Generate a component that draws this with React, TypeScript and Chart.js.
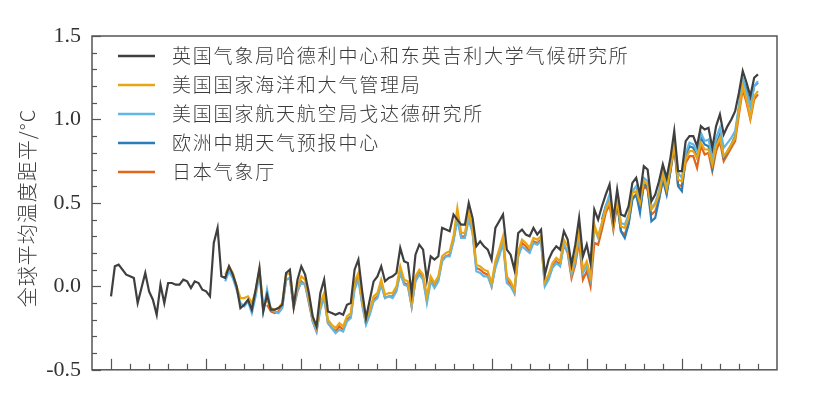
import React, { useEffect, useRef } from 'react';
import { Chart, registerables } from 'chart.js';

Chart.register(...registerables);

const seriesNames = [
  '英国气象局哈德利中心和东英吉利大学气候研究所',
  '美国国家海洋和大气管理局',
  '美国国家航天航空局戈达德研究所',
  '欧洲中期天气预报中心',
  '日本气象厅',
];
const seriesColors = ['#3f3f3f', '#e8a614', '#62b6e4', '#2a7db8', '#e0661c'];

const yAxisTitle = '全球平均温度距平/°C';

const hadcrutStart = 1850;
const hadcrut = [
  -0.06, 0.12, 0.13, 0.10, 0.07, 0.06, 0.05, -0.10, -0.01, 0.08,
  -0.03, -0.08, -0.17, 0.01, -0.10, 0.02, 0.02, 0.01, 0.01, 0.04,
  0.03, -0.01, 0.03, 0.02, -0.02, -0.03, -0.06, 0.26, 0.35, 0.06,
  0.05, 0.12, 0.07, 0.00, -0.13, -0.11, -0.08, -0.14, -0.02, 0.11,
  -0.15, -0.05, -0.14, -0.14, -0.13, -0.11, 0.08, 0.10, -0.12, 0.04,
  0.12, 0.07, -0.04, -0.18, -0.24, -0.04, 0.04, -0.15, -0.16, -0.17,
  -0.16, -0.17, -0.11, -0.10, 0.10, 0.16, -0.03, -0.19, -0.08, 0.03,
  0.06, 0.12, 0.03, 0.05, 0.06, 0.08, 0.23, 0.15, 0.14, -0.04,
  0.19, 0.25, 0.22, 0.04, 0.18, 0.16, 0.18, 0.35, 0.34, 0.33,
  0.43, 0.40, 0.37, 0.37, 0.50, 0.41, 0.24, 0.27, 0.24, 0.22,
  0.16, 0.35, 0.39, 0.43, 0.22, 0.19, 0.10, 0.32, 0.34, 0.31,
  0.30, 0.35, 0.31, 0.34, 0.07, 0.16, 0.21, 0.24, 0.22, 0.33,
  0.28, 0.13, 0.25, 0.41, 0.18, 0.25, 0.14, 0.46, 0.40, 0.48,
  0.55, 0.61, 0.40, 0.58, 0.43, 0.42, 0.48, 0.62, 0.65, 0.55,
  0.72, 0.70, 0.51, 0.55, 0.63, 0.73, 0.65, 0.77, 0.93, 0.69,
  0.69, 0.87, 0.90, 0.90, 0.84, 0.96, 0.94, 0.95, 0.83, 0.96,
  1.03, 0.91, 0.96, 1.00, 1.05, 1.16, 1.29, 1.22, 1.14, 1.25,
  1.27,
];

const noaaStart = 1880;
const noaa = [
  0.07, 0.12, 0.08, 0.00, -0.07, -0.07, -0.06, -0.10, -0.03, 0.10,
  -0.12, -0.08, -0.13, -0.14, -0.13, -0.10, 0.07, 0.08, -0.10, 0.00,
  0.06, 0.04, -0.07, -0.19, -0.25, -0.10, -0.04, -0.20, -0.23, -0.25,
  -0.22, -0.24, -0.18, -0.16, 0.03, 0.08, -0.08, -0.20, -0.14, -0.06,
  -0.04, 0.04, -0.05, -0.04, -0.04, 0.00, 0.12, 0.04, 0.03, -0.10,
  0.06, 0.10, 0.07, -0.06, 0.06, 0.02, 0.06, 0.18, 0.20, 0.21,
  0.30, 0.47, 0.32, 0.32, 0.45, 0.35, 0.13, 0.12, 0.10, 0.09,
  0.02, 0.15, 0.22, 0.30, 0.06, 0.03, -0.02, 0.21, 0.28, 0.26,
  0.23, 0.29, 0.28, 0.30, 0.03, 0.07, 0.14, 0.17, 0.15, 0.28,
  0.24, 0.09, 0.18, 0.33, 0.10, 0.15, 0.06, 0.37, 0.30, 0.38,
  0.46, 0.51, 0.36, 0.52, 0.36, 0.35, 0.41, 0.56, 0.57, 0.50,
  0.63, 0.61, 0.46, 0.49, 0.55, 0.67, 0.58, 0.71, 0.85, 0.64,
  0.63, 0.76, 0.81, 0.81, 0.77, 0.86, 0.82, 0.82, 0.73, 0.84,
  0.89, 0.78, 0.81, 0.85, 0.89, 1.05, 1.20, 1.12, 1.01, 1.14,
  1.17,
];

const gissStart = 1880;
const giss = [
  0.03, 0.09, 0.05, -0.02, -0.10, -0.12, -0.09, -0.16, -0.06, 0.07,
  -0.15, -0.02, -0.14, -0.15, -0.16, -0.13, 0.04, 0.05, -0.12, -0.02,
  0.02, 0.01, -0.09, -0.21, -0.27, -0.14, -0.07, -0.22, -0.25, -0.28,
  -0.26, -0.27, -0.21, -0.19, -0.02, 0.04, -0.11, -0.23, -0.17, -0.09,
  -0.07, 0.01, -0.07, -0.06, -0.07, -0.03, 0.08, 0.01, 0.00, -0.12,
  0.03, 0.07, 0.04, -0.10, 0.03, -0.01, 0.03, 0.15, 0.18, 0.18,
  0.27, 0.40, 0.29, 0.29, 0.40, 0.32, 0.09, 0.08, 0.06, 0.06,
  0.00, 0.11, 0.18, 0.26, 0.02, 0.00, -0.04, 0.18, 0.24, 0.22,
  0.20, 0.26, 0.25, 0.27, 0.00, 0.04, 0.11, 0.14, 0.12, 0.25,
  0.21, 0.07, 0.15, 0.30, 0.08, 0.12, 0.04, 0.35, 0.29, 0.38,
  0.48, 0.55, 0.39, 0.54, 0.38, 0.37, 0.43, 0.57, 0.60, 0.52,
  0.65, 0.63, 0.47, 0.50, 0.57, 0.70, 0.62, 0.72, 0.88, 0.68,
  0.65, 0.80, 0.86, 0.85, 0.81, 0.92, 0.87, 0.88, 0.78, 0.89,
  0.95, 0.83, 0.86, 0.89, 0.93, 1.08, 1.24, 1.16, 1.08, 1.20,
  1.23,
];

const era5Start = 1979;
const era5 = [
  0.40,
  0.48, 0.53, 0.36, 0.50, 0.33, 0.29, 0.37, 0.52, 0.55, 0.44,
  0.62, 0.59, 0.39, 0.41, 0.52, 0.64, 0.55, 0.69, 0.86, 0.60,
  0.57, 0.78, 0.84, 0.83, 0.77, 0.89, 0.85, 0.84, 0.71, 0.85,
  0.91, 0.77, 0.81, 0.85, 0.90, 1.07, 1.24, 1.18, 1.08, 1.20,
  1.22,
];

const jmaStart = 1891;
const jma = [
  -0.11, -0.15, -0.16, -0.15, -0.12, 0.04, 0.05, -0.13, -0.03,
  0.03, 0.01, -0.10, -0.21, -0.27, -0.12, -0.06, -0.22, -0.25, -0.27,
  -0.24, -0.26, -0.20, -0.18, 0.01, 0.06, -0.10, -0.22, -0.16, -0.08,
  -0.06, 0.02, -0.07, -0.06, -0.06, -0.02, 0.10, 0.02, 0.01, -0.12,
  0.04, 0.08, 0.05, -0.08, 0.04, 0.00, 0.04, 0.16, 0.18, 0.19,
  0.28, 0.42, 0.30, 0.30, 0.42, 0.33, 0.11, 0.10, 0.08, 0.07,
  0.00, 0.13, 0.20, 0.28, 0.04, 0.01, -0.04, 0.19, 0.26, 0.24,
  0.21, 0.27, 0.26, 0.28, 0.01, 0.05, 0.12, 0.15, 0.13, 0.25,
  0.20, 0.05, 0.13, 0.27, 0.04, 0.09, 0.00, 0.26, 0.25, 0.34,
  0.44, 0.49, 0.34, 0.50, 0.33, 0.31, 0.38, 0.53, 0.55, 0.47,
  0.60, 0.58, 0.43, 0.45, 0.52, 0.64, 0.56, 0.69, 0.83, 0.61,
  0.60, 0.74, 0.78, 0.78, 0.71, 0.84, 0.79, 0.80, 0.69, 0.81,
  0.87, 0.75, 0.79, 0.83, 0.87, 1.03, 1.18, 1.10, 1.00, 1.12,
  1.15,
];

const xMin = 1845;
const xMax = 2025;
const xTickFirst = 1850;
const xTickLast = 2020;
const xTickStep = 5;
const xMajorStep = 25;
const yMin = -0.5;
const yMax = 1.5;
const yLabelStep = 0.5;

const toPoints = (start: number, vals: number[]) =>
  vals.map((v, i) => ({ x: start + i, y: v }));

const decorPlugin = {
  id: 'decor',
  afterDraw(chart: any) {
    const { ctx, chartArea } = chart;
    const { left, right, top, bottom } = chartArea;
    const xs = chart.scales.x;
    const ys = chart.scales.y;
    ctx.save();
    // frame
    ctx.strokeStyle = '#555';
    ctx.lineWidth = 1.5;
    ctx.strokeRect(left, top, right - left, bottom - top);
    // y ticks (inward)
    ctx.lineWidth = 1.2;
    for (let k = Math.round(yMin * 10); k <= Math.round(yMax * 10); k++) {
      const py = Math.round(ys.getPixelForValue(k / 10)) + 0.5;
      const len = k % 5 === 0 ? 9 : 5;
      ctx.beginPath();
      ctx.moveTo(left, py);
      ctx.lineTo(left + len, py);
      ctx.stroke();
    }
    // x ticks (inward)
    for (let yr = xTickFirst; yr <= xTickLast; yr += xTickStep) {
      const px = Math.round(xs.getPixelForValue(yr)) + 0.5;
      const len = (yr - xTickFirst) % xMajorStep === 0 ? 11 : 6;
      ctx.beginPath();
      ctx.moveTo(px, bottom);
      ctx.lineTo(px, bottom - len);
      ctx.stroke();
    }
    // y title
    ctx.save();
    ctx.translate(27, 208);
    ctx.rotate(-Math.PI / 2);
    ctx.fillStyle = '#3a3a3a';
    ctx.font = "300 20px 'Noto Sans CJK SC'";
    (ctx as any).letterSpacing = '1px';
    ctx.textAlign = 'center';
    ctx.textBaseline = 'middle';
    ctx.fillText(yAxisTitle, 0, 0);
    ctx.restore();
    // legend
    ctx.font = "300 19px 'Noto Sans CJK SC'";
    (ctx as any).letterSpacing = '1.8px';
    ctx.textAlign = 'left';
    ctx.textBaseline = 'middle';
    chart.data.datasets.forEach((ds: any, i: number) => {
      const cy = 56 + i * 29;
      ctx.strokeStyle = ds.borderColor;
      ctx.lineWidth = 2.5;
      ctx.beginPath();
      ctx.moveTo(118, cy);
      ctx.lineTo(155, cy);
      ctx.stroke();
      ctx.fillStyle = '#3a3a3a';
      ctx.fillText(ds.label, 172, cy);
    });
    ctx.restore();
  },
};

export default function App() {
  const ref = useRef<HTMLCanvasElement>(null);
  useEffect(() => {
    const canvas = ref.current;
    if (!canvas) return;
    const sources = [
      toPoints(hadcrutStart, hadcrut),
      toPoints(noaaStart, noaa),
      toPoints(gissStart, giss),
      toPoints(era5Start, era5),
      toPoints(jmaStart, jma),
    ];
    const chart = new Chart(canvas, {
      type: 'line',
      data: {
        datasets: sources.map((pts, i) => ({
          label: seriesNames[i],
          data: pts,
          borderColor: seriesColors[i],
          backgroundColor: seriesColors[i],
          borderWidth: 2.2,
          pointRadius: 0,
          tension: 0,
          fill: false,
          order: i,
        })),
      },
      options: {
        animation: false,
        responsive: false,
        layout: { padding: { left: 0, top: 36, right: 36, bottom: 15 } },
        plugins: { legend: { display: false }, tooltip: { enabled: false } },
        scales: {
          x: { type: 'linear', min: xMin, max: xMax, display: false },
          y: {
            type: 'linear',
            min: yMin,
            max: yMax,
            ticks: {
              stepSize: yLabelStep,
              callback: (v: any) => Number(v).toFixed(1),
              font: { family: "'Liberation Serif', serif", size: 22 },
              color: '#333',
              padding: 11,
            },
            grid: { display: false, drawTicks: false },
            border: { display: false },
            afterFit: (s: any) => {
              s.width = 92;
            },
          },
        },
      },
      plugins: [decorPlugin],
    } as any);
    return () => chart.destroy();
  }, []);
  return (
    <div style={{ position: 'fixed', left: 0, top: 0, width: 813, height: 394, background: '#fff' }}>
      <canvas ref={ref} width={813} height={394} style={{ display: 'block' }} />
    </div>
  );
}
